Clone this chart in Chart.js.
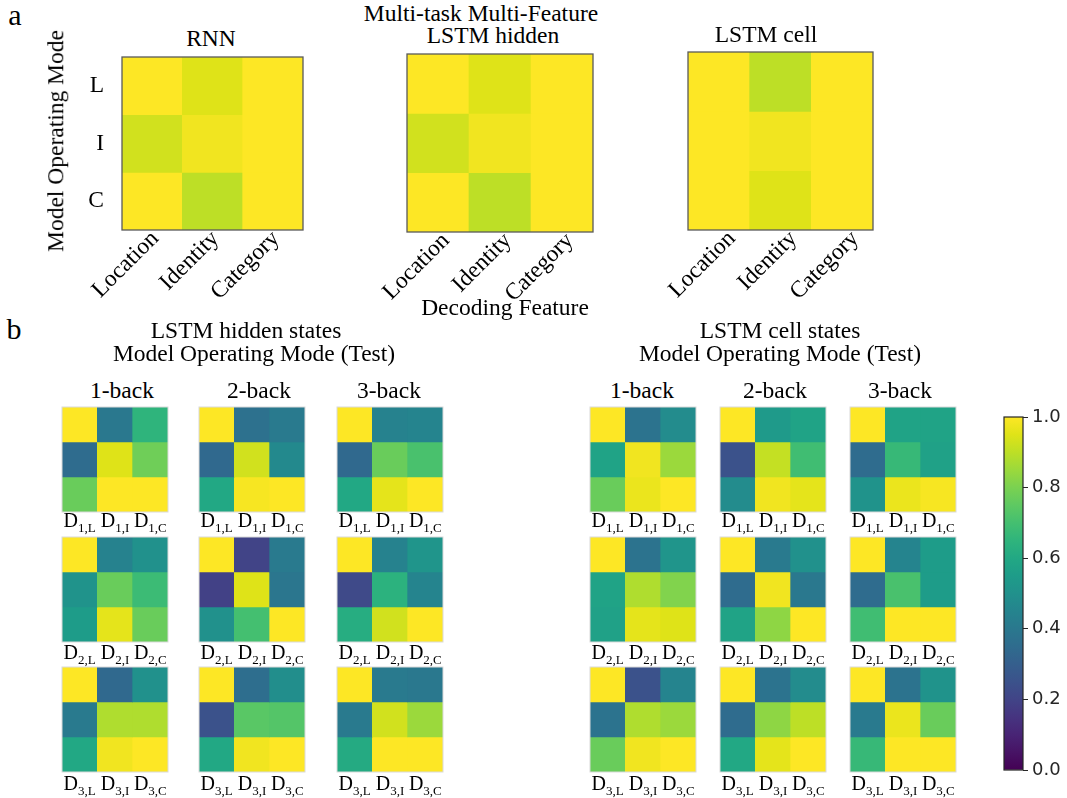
<!DOCTYPE html>
<html>
<head>
<meta charset="utf-8">
<title>Decoding accuracy by model operating mode</title>
<script src="https://cdn.jsdelivr.net/npm/chart.js@4.4.1/dist/chart.umd.min.js"></script>
<style>
  html, body { margin: 0; padding: 0; background: #fff; }
  #fig { position: relative; width: 1067px; height: 798px; overflow: hidden; background: #fff;
         font-family: "Liberation Serif", "Times New Roman", serif; color: #000; }
  #fig canvas { position: absolute; }
  .t { position: absolute; white-space: nowrap; line-height: 1; }
  .t sub { font-size: 13px; vertical-align: baseline; position: relative; top: 0.35em; }
</style>
</head>
<body>
<div id="fig"></div>
<script>
// ---------- data ----------
const decodingFeatures = ['Location', 'Identity', 'Category'];
const operatingModes = ['L', 'I', 'C'];
const modelNames = ['RNN', 'LSTM hidden', 'LSTM cell'];

// rows: operating mode L, I, C ; columns: Location, Identity, Category
const rnnAccuracy        = [[1.00, 0.95, 1.00], [0.93, 0.98, 1.00], [1.00, 0.90, 1.00]];
const lstmHiddenAccuracy = [[1.00, 0.95, 1.00], [0.93, 0.98, 1.00], [1.00, 0.90, 1.00]];
const lstmCellAccuracy   = [[1.00, 0.90, 1.00], [1.00, 0.98, 1.00], [1.00, 0.95, 1.00]];

const nBackTasks = ['1-back', '2-back', '3-back'];
const featureCodes = ['L', 'I', 'C'];
const decoderSteps = [1, 2, 3];

// LSTM hidden states: one list per decoder D_k, a 3x3 matrix per n-back task
const hiddenD1 = [[[1.00, 0.40, 0.65], [0.35, 0.95, 0.78], [0.77, 1.00, 1.00]],
                  [[1.00, 0.37, 0.41], [0.34, 0.93, 0.47], [0.60, 0.99, 1.00]],
                  [[1.00, 0.44, 0.45], [0.34, 0.77, 0.71], [0.60, 0.96, 1.00]]];
const hiddenD2 = [[[1.00, 0.44, 0.50], [0.51, 0.77, 0.68], [0.55, 0.96, 0.77]],
                  [[1.00, 0.20, 0.41], [0.19, 0.95, 0.39], [0.50, 0.70, 1.00]],
                  [[1.00, 0.44, 0.52], [0.22, 0.64, 0.45], [0.62, 0.93, 1.00]]];
const hiddenD3 = [[[1.00, 0.34, 0.50], [0.41, 0.88, 0.88], [0.60, 0.98, 1.00]],
                  [[1.00, 0.36, 0.49], [0.25, 0.74, 0.73], [0.60, 0.98, 1.00]],
                  [[1.00, 0.41, 0.40], [0.41, 0.93, 0.85], [0.61, 1.00, 1.00]]];

// LSTM cell states
const cellD1 = [[[1.00, 0.38, 0.48], [0.58, 0.98, 0.85], [0.77, 0.97, 1.00]],
                [[1.00, 0.54, 0.58], [0.25, 0.91, 0.69], [0.48, 0.98, 0.96]],
                [[1.00, 0.58, 0.58], [0.35, 0.67, 0.57], [0.51, 0.97, 0.99]]];
const cellD2 = [[[1.00, 0.38, 0.52], [0.58, 0.88, 0.81], [0.57, 0.96, 0.95]],
                [[1.00, 0.41, 0.50], [0.35, 0.98, 0.40], [0.58, 0.83, 1.00]],
                [[1.00, 0.45, 0.55], [0.35, 0.71, 0.55], [0.69, 1.00, 1.00]]];
const cellD3 = [[[1.00, 0.25, 0.45], [0.38, 0.88, 0.85], [0.77, 0.98, 1.00]],
                [[1.00, 0.38, 0.48], [0.35, 0.83, 0.90], [0.60, 0.96, 1.00]],
                [[1.00, 0.38, 0.51], [0.41, 0.97, 0.77], [0.67, 1.00, 1.00]]];

const colorbarTicks = [0, 0.2, 0.4, 0.6, 0.8, 1.0];

// ---------- colour map ----------
const VIRIDIS = ['#440154', '#471365', '#482475', '#463480', '#414487', '#3b528b', '#355f8d',
  '#2f6c8e', '#2a788e', '#25848e', '#21918c', '#1e9c89', '#22a884', '#2fb47c', '#44bf70',
  '#5ec962', '#7ad151', '#9bd93c', '#bddf26', '#dfe318', '#fde725'];
const hexRgb = h => [1, 3, 5].map(i => parseInt(h.slice(i, i + 2), 16));
function viridis(v) {
  const n = VIRIDIS.length - 1;
  const t = Math.min(1, Math.max(0, v)) * n;
  const i = Math.min(Math.floor(t), n - 1);
  const f = t - i;
  const a = hexRgb(VIRIDIS[i]), b = hexRgb(VIRIDIS[i + 1]);
  const c = a.map((x, k) => Math.round(x + (b[k] - x) * f));
  return `rgb(${c[0]},${c[1]},${c[2]})`;
}

// ---------- helpers ----------
const fig = document.getElementById('fig');
const SERIF = "'Liberation Serif', 'Times New Roman', serif";
const TXT = 23.5;

function makeCanvas(x, y, w, h) {
  const c = document.createElement('canvas');
  c.width = w; c.height = h;
  c.style.left = x + 'px'; c.style.top = y + 'px';
  c.style.width = w + 'px'; c.style.height = h + 'px';
  fig.appendChild(c);
  return c;
}

// text centred on cx with its baseline at y
function addText(html, cx, baseline, size) {
  const d = document.createElement('div');
  d.className = 't';
  d.innerHTML = html;
  d.style.fontSize = size + 'px';
  d.style.left = cx + 'px';
  d.style.top = (baseline - 0.8375 * size) + 'px';
  d.style.transform = 'translateX(-50%)';
  fig.appendChild(d);
  return d;
}
function addVerticalText(text, cx, cy, size) {
  const d = document.createElement('div');
  d.className = 't';
  d.textContent = text;
  d.style.fontSize = size + 'px';
  d.style.left = cx + 'px';
  d.style.top = cy + 'px';
  d.style.transform = 'translate(-50%, -50%) rotate(-90deg)';
  fig.appendChild(d);
}

// outline around the plot area
const framePlugin = {
  id: 'frame',
  afterDatasetsDraw(chart, args, o) {
    if (!o || !o.color) return;
    const { ctx, chartArea: a } = chart;
    ctx.save();
    ctx.strokeStyle = o.color;
    ctx.lineWidth = o.width;
    ctx.strokeRect(a.left, a.top, a.right - a.left, a.bottom - a.top);
    ctx.restore();
  }
};

// each matrix row becomes one dataset of floating bars spanning [row, row + 1]
function cellDatasets(matrix) {
  return matrix.map((row, r) => ({
    data: row.map(() => [r, r + 1]),
    backgroundColor: row.map(viridis),
    borderWidth: 0,
    barPercentage: 1,
    categoryPercentage: 1,
    grouped: false
  }));
}

const baseOptions = () => ({
  responsive: false,
  maintainAspectRatio: false,
  animation: false,
  events: []
});

// ---------- panel a ----------
function bigHeatmap(matrix, rect, showY, labelShift) {
  const PAD_L = 95, PAD_T = 3, PAD_R = 3, AXIS_H = 100, Y_W = 40;
  const canvas = makeCanvas(rect.x - PAD_L, rect.y - PAD_T, PAD_L + rect.w + PAD_R, PAD_T + rect.h + AXIS_H);
  new Chart(canvas, {
    type: 'bar',
    data: { labels: decodingFeatures, datasets: cellDatasets(matrix) },
    options: Object.assign(baseOptions(), {
      layout: { padding: { left: showY ? PAD_L - Y_W : PAD_L, top: PAD_T, right: PAD_R, bottom: 0 } },
      plugins: { legend: { display: false }, tooltip: { enabled: false }, frame: { color: '#5a5a5a', width: 1.3 } },
      scales: {
        x: {
          offset: true,
          grid: { display: false, drawTicks: false },
          border: { display: false },
          ticks: { autoSkip: false, minRotation: 45, maxRotation: 45, padding: -5, labelOffset: labelShift,
                   font: { family: SERIF, size: TXT }, color: '#000' },
          afterFit: s => { s.height = AXIS_H; s.paddingLeft = 0; s.paddingRight = 0; }
        },
        y: {
          display: showY,
          min: 0, max: 3, reverse: true,
          grid: { display: false, drawTicks: false },
          border: { display: false },
          afterBuildTicks: s => { s.ticks = operatingModes.map((_, i) => ({ value: i + 0.5 })); },
          ticks: { padding: 18, font: { family: SERIF, size: TXT }, color: '#000',
                   callback: v => operatingModes[Math.floor(v)] },
          afterFit: s => { s.width = showY ? Y_W : 0; s.paddingTop = 0; s.paddingBottom = 0; }
        }
      }
    }),
    plugins: [framePlugin]
  });
}

bigHeatmap(rnnAccuracy,        { x: 122, y: 57, w: 181, h: 173 }, true, 3);
bigHeatmap(lstmHiddenAccuracy, { x: 407, y: 54, w: 186, h: 178 }, false, 8);
bigHeatmap(lstmCellAccuracy,   { x: 688, y: 52, w: 185, h: 178 }, false, 13);

addText('a', 15, 25, 30);
addText('Multi-task Multi-Feature', 481, 22, TXT);
addText(modelNames[0], 211, 47, TXT);
addText(modelNames[1], 493, 44, TXT);
addText(modelNames[2], 766, 43, TXT);
addText('Decoding Feature', 505, 316, TXT);
addVerticalText('Model Operating Mode', 56, 141, TXT);

// ---------- panel b ----------
const CELL_W = 106, CELL_H = 105;
function smallHeatmap(matrix, x, y) {
  const canvas = makeCanvas(x - 1, y - 1, CELL_W + 2, CELL_H + 2);
  new Chart(canvas, {
    type: 'bar',
    data: { labels: featureCodes, datasets: cellDatasets(matrix) },
    options: Object.assign(baseOptions(), {
      layout: { padding: 1 },
      plugins: { legend: { display: false }, tooltip: { enabled: false }, frame: { color: '#dadada', width: 1 } },
      scales: {
        x: { display: false, offset: true },
        y: { display: false, min: 0, max: 3, reverse: true }
      }
    }),
    plugins: [framePlugin]
  });
}

const rowTops = [407, 537, 667];
const labelBaselines = [527, 659, 790];

function nBackGroup(groups, colLefts, titleLines, titleCentres, taskCentres) {
  groups.forEach((perTask, k) => {
    perTask.forEach((matrix, t) => {
      const x = colLefts[t];
      smallHeatmap(matrix, x, rowTops[k]);
      featureCodes.forEach((f, c) => {
        const cx = x + CELL_W * (c + 0.5) / 3;
        addText(`D<sub>${decoderSteps[k]},${f}</sub>`, cx, labelBaselines[k], 20);
      });
    });
  });
  addText(titleLines[0], titleCentres[0], 339, TXT);
  addText(titleLines[1], titleCentres[1], 362, TXT);
  nBackTasks.forEach((name, t) => addText(name, taskCentres[t], 399, TXT));
}

nBackGroup([hiddenD1, hiddenD2, hiddenD3], [62, 199, 337],
           ['LSTM hidden states', 'Model Operating Mode (Test)'], [246, 254], [122, 259, 389]);
nBackGroup([cellD1, cellD2, cellD3], [590, 720, 850],
           ['LSTM cell states', 'Model Operating Mode (Test)'], [780, 780], [642, 775, 900]);
addText('b', 14, 339, 30);

// ---------- colour bar ----------
(function colorbar() {
  const rect = { x: 1004, y: 417, w: 19, h: 353 };
  const PAD_L = 2, PAD_T = 14, PAD_B = 14, AXIS_W = 44;
  const canvas = makeCanvas(rect.x - PAD_L, rect.y - PAD_T, PAD_L + rect.w + AXIS_W, PAD_T + rect.h + PAD_B);
  new Chart(canvas, {
    type: 'bar',
    data: {
      labels: [''],
      datasets: [{
        data: [[colorbarTicks[0], colorbarTicks[colorbarTicks.length - 1]]],
        backgroundColor: ctx => {
          const { chart } = ctx;
          const a = chart.chartArea;
          if (!a) return VIRIDIS[10];
          const g = chart.ctx.createLinearGradient(0, a.bottom, 0, a.top);
          VIRIDIS.forEach((col, i) => g.addColorStop(i / (VIRIDIS.length - 1), col));
          return g;
        },
        borderWidth: 0,
        barPercentage: 1,
        categoryPercentage: 1
      }]
    },
    options: Object.assign(baseOptions(), {
      layout: { padding: { left: PAD_L, top: PAD_T, bottom: PAD_B, right: 0 } },
      plugins: { legend: { display: false }, tooltip: { enabled: false }, frame: { color: '#262626', width: 1.2 } },
      scales: {
        x: { display: false, offset: true },
        y: {
          position: 'right',
          min: 0, max: 1,
          afterBuildTicks: s => { s.ticks = colorbarTicks.map(v => ({ value: v })); },
          ticks: { padding: 4, color: '#262626', font: { family: "'DejaVu Sans', sans-serif", size: 18 },
                   callback: v => Number(v).toFixed(1) },
          grid: { display: true, drawOnChartArea: false, drawTicks: true, tickLength: 5, color: '#262626', lineWidth: 1 },
          border: { display: false },
          afterFit: s => { s.width = AXIS_W; s.paddingTop = 0; s.paddingBottom = 0; }
        }
      }
    }),
    plugins: [framePlugin]
  });
})();
</script>
</body>
</html>
